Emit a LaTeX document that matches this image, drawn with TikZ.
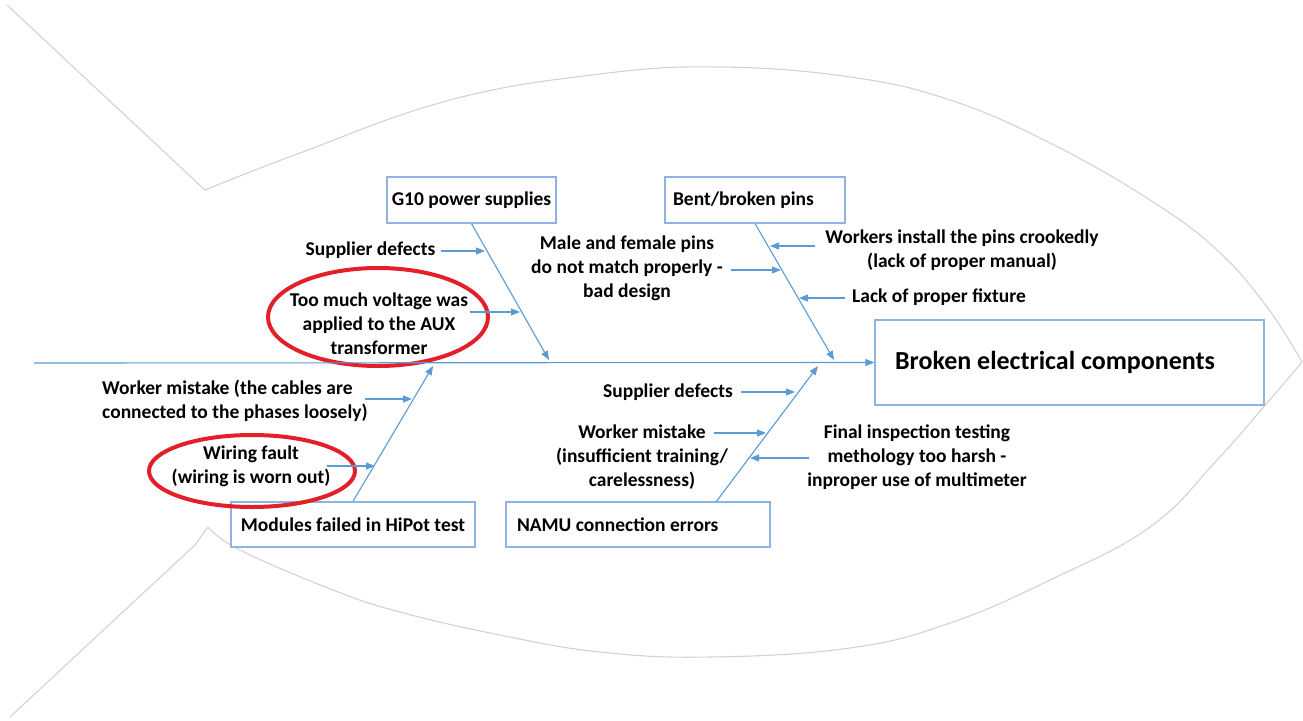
\documentclass[tikz,border=0pt]{standalone}
\usepackage{fontspec}
\setmainfont{Carlito}
\usetikzlibrary{arrows.meta,calc}
\definecolor{bone}{HTML}{5B9BD5}
\definecolor{boxline}{HTML}{8DB4E2}
\definecolor{fishgray}{HTML}{D2D2D2}
\definecolor{markred}{HTML}{E3202A}

\begin{document}
\begin{tikzpicture}[x=1pt,y=-1pt,
  lbl/.style={font=\fontsize{19.5}{24}\selectfont\bfseries, inner sep=0pt, align=center},
  catbox/.style={draw=boxline, fill=white, line width=1.2pt, minimum height=46pt,
    inner ysep=0pt, inner xsep=0pt, font=\fontsize{19.5}{24}\selectfont\bfseries},
  bonearrow/.style={draw=bone, line width=1.1pt, -{Triangle[length=9pt,width=7pt]}},
  fishline/.style={draw=fishgray, line width=1.1pt, line join=round},
  ring/.style={draw=markred, line width=4pt}]

\useasboundingbox (0,0) rectangle (1303,720);

% fish outline
\draw[fishline] (7,5) -- (205,190) -- plot[smooth,tension=0.7] coordinates {(205,190) (300,153) (450,100) (600,74) (720,67) (850,77) (950,100) (1050,143) (1150,200) (1217,250) (1267,307) (1302,362)};
\draw[fishline] (10,717) -- (195,545) -- (208,527) -- plot[smooth,tension=0.7] coordinates {(208,527) (240,550) (333,590) (400,612) (500,635) (600,652) (710,657) (850,648) (950,623) (1050,580) (1150,527) (1217,460) (1267,403) (1302,362)};

% effect and category boxes
\node[catbox, inner xsep=20pt, minimum height=85pt,
      font=\fontsize{26}{30}\selectfont\bfseries] (effect) at (1069.5,362.5)
      {\makebox[349pt][l]{Broken electrical components}};
\node[catbox, minimum width=169pt] (g10) at (471.5,200) {G10 power supplies};
\node[catbox, inner xsep=8pt] (bent) at (755,200) {\makebox[164pt][l]{Bent/broken pins}};
\node[catbox, minimum width=244pt, minimum height=45pt] (hipot) at (353,524.5) {Modules failed in HiPot test};
\node[catbox, inner xsep=11pt, minimum height=45pt] (namu) at (638,524.5) {\makebox[242pt][l]{NAMU connection errors}};

% cause labels
\node[lbl] (c1) at (370.5,250) {Supplier defects};
\node[lbl] (c2) at (379,324) {Too much voltage was\\applied to the AUX\\transformer};
\node[lbl] (c3) at (627,268) {Male and female pins\\do not match properly -\\bad design};
\node[lbl] (c4) at (962,250) {Workers install the pins crookedly\\(lack of proper manual)};
\node[lbl] (c5) at (939,297) {Lack of proper fixture};
\node[lbl, align=left, anchor=west] (c6) at (102,401) {Worker mistake (the cables are\\connected to the phases loosely)};
\node[lbl] (c7) at (251,466) {Wiring fault\\(wiring is worn out)};
\node[lbl] (c8) at (668,392) {Supplier defects};
\node[lbl] (c9) at (642,457) {Worker mistake\\(insufficient training/\\carelessness)};
\node[lbl] (c10) at (917,457) {Final inspection testing\\methology too harsh -\\inproper use of multimeter};

% highlight rings
\draw[ring] (378,317) ellipse [x radius=110pt, y radius=49pt];
\draw[ring] (252,471) ellipse [x radius=103pt, y radius=36pt];

% spine and bones
\coordinate (tail) at (34,363);
\coordinate (h1) at (549,360);
\coordinate (h2) at (834,360);
\coordinate (h3) at (433,366);
\coordinate (t4) at (716,502);
\coordinate (h4) at (818,366);
\draw[bonearrow] (tail) -- (effect.west);
\draw[bonearrow] (g10.south) -- (h1);
\draw[bonearrow] (bent.south) -- (h2);
\draw[bonearrow] (hipot.north) -- (h3);
\draw[bonearrow] (t4) -- (h4);

% sub-cause arrows
\foreach \n/\sx/\sy/\ex/\ey in {1/441/251/485/251, 2/470/312/520/312, 3/731/270/781/270,
    4/815/246/770/246, 5/845/298/799/298, 6/365/399/412/399, 7/327/466/375/466,
    8/741/392/795/392, 9/714/433/766/433, 10/809/458/750/458}{
  \coordinate (s\n) at (\sx,\sy);
  \coordinate (e\n) at (\ex,\ey);
  \draw[bonearrow] (s\n) -- (e\n);
}
\end{tikzpicture}
\end{document}
